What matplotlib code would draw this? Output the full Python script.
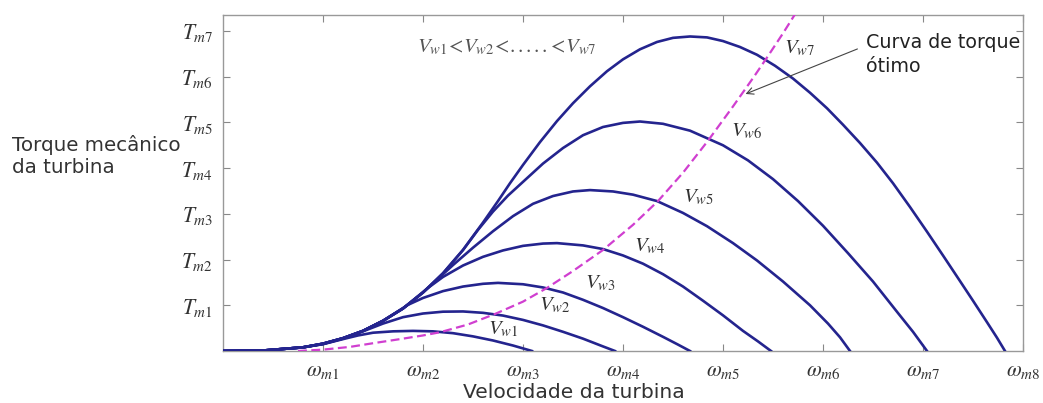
import matplotlib
matplotlib.use("Agg")
import matplotlib.pyplot as plt

plt.rcParams["mathtext.fontset"] = "stix"

# Torque-speed curves of the turbine for wind speeds Vw1..Vw7
vw1_x = [0, 0.4, 0.8, 1.0, 1.2, 1.35, 1.5, 1.7, 1.9, 2.1, 2.3, 2.5, 2.7, 2.9, 3.09]
vw1_y = [0, 0.01, 0.08, 0.15, 0.26, 0.34, 0.40, 0.43, 0.44, 0.43, 0.39, 0.32, 0.23, 0.12, 0]

vw2_x = [0, 0.4, 0.8, 1.0, 1.2, 1.4, 1.6, 1.8, 2.0, 2.2, 2.4, 2.6, 2.8, 3.0, 3.2, 3.4, 3.6, 3.8, 3.92]
vw2_y = [0, 0.01, 0.08, 0.15, 0.27, 0.43, 0.60, 0.74, 0.82, 0.86, 0.865, 0.835, 0.775, 0.68, 0.56, 0.42, 0.27, 0.10, 0]

vw3_x = [0, 0.4, 0.8, 1.0, 1.2, 1.4, 1.6, 1.85, 2.0, 2.2, 2.4, 2.6, 2.75, 3.0, 3.2, 3.4, 3.6, 3.8, 4.0, 4.2, 4.4, 4.55, 4.67]
vw3_y = [0, 0.01, 0.08, 0.16, 0.28, 0.44, 0.66, 1.01, 1.16, 1.31, 1.41, 1.47, 1.49, 1.46, 1.39, 1.28, 1.12, 0.94, 0.74, 0.53, 0.31, 0.14, 0]

vw4_x = [0, 0.4, 0.8, 1.0, 1.2, 1.4, 1.6, 1.8, 2.05, 2.2, 2.4, 2.6, 2.8, 3.0, 3.2, 3.34,
         3.6, 3.8, 4.0, 4.2, 4.4, 4.6, 4.8, 5.0, 5.2, 5.35, 5.48]
vw4_y = [0, 0.01, 0.08, 0.16, 0.28, 0.44, 0.66, 0.93, 1.38, 1.62, 1.87, 2.06, 2.20, 2.30, 2.35, 2.36,
         2.31, 2.23, 2.09, 1.91, 1.68, 1.41, 1.10, 0.78, 0.44, 0.21, 0]

vw5_x = [0, 0.4, 0.8, 1.0, 1.2, 1.4, 1.6, 1.8, 2.0, 2.15, 2.3, 2.5, 2.7, 2.9, 3.1, 3.3, 3.5, 3.67,
         3.9, 4.1, 4.34, 4.6, 4.84, 5.1, 5.34, 5.6, 5.87, 6.05, 6.17, 6.27]
vw5_y = [0, 0.01, 0.08, 0.16, 0.28, 0.44, 0.66, 0.93, 1.28, 1.58, 1.88, 2.26, 2.62, 2.95, 3.22, 3.39, 3.49, 3.52,
         3.49, 3.42, 3.28, 3.02, 2.73, 2.36, 1.98, 1.52, 1.00, 0.60, 0.30, 0]

vw6_x = [0, 0.4, 0.8, 1.0, 1.2, 1.4, 1.6, 1.8, 2.0, 2.2, 2.4, 2.55, 2.7, 2.85, 3.0, 3.2, 3.4, 3.6, 3.8, 4.0, 4.17,
         4.4, 4.67, 5.0, 5.25, 5.5, 5.75, 6.0, 6.25, 6.5, 6.75, 6.9, 7.04]
vw6_y = [0, 0.01, 0.08, 0.16, 0.28, 0.44, 0.66, 0.93, 1.28, 1.70, 2.21, 2.65, 3.05, 3.40, 3.70, 4.10, 4.44, 4.72, 4.90, 4.99, 5.02,
         4.97, 4.82, 4.50, 4.17, 3.76, 3.28, 2.74, 2.14, 1.52, 0.83, 0.42, 0]

vw7_x = [0, 0.4, 0.8, 1.0, 1.2, 1.4, 1.6, 1.8, 2.0, 2.2, 2.4, 2.6, 2.75, 2.87, 3.0, 3.17, 3.34, 3.5, 3.67, 3.84,
         4.0, 4.17, 4.34, 4.5, 4.67, 4.84, 5.0, 5.17, 5.34, 5.52, 5.7, 5.87, 6.04, 6.2, 6.37, 6.54, 6.7,
         6.87, 7.04, 7.2, 7.37, 7.5, 7.64, 7.74, 7.82]
vw7_y = [0, 0.01, 0.08, 0.16, 0.28, 0.44, 0.66, 0.93, 1.28, 1.70, 2.21, 2.81, 3.28, 3.67, 4.07, 4.57, 5.03, 5.42, 5.79, 6.12,
         6.38, 6.60, 6.76, 6.85, 6.88, 6.86, 6.78, 6.65, 6.48, 6.24, 5.96, 5.65, 5.31, 4.95, 4.55, 4.12, 3.67,
         3.15, 2.61, 2.09, 1.53, 1.10, 0.63, 0.29, 0]

curves_x = [vw1_x, vw2_x, vw3_x, vw4_x, vw5_x, vw6_x, vw7_x]
curves_y = [vw1_y, vw2_y, vw3_y, vw4_y, vw5_y, vw6_y, vw7_y]

# Optimal torque curve
opt_x = [0.75, 1.0, 1.27, 1.5, 1.77, 2.0, 2.17, 2.45, 2.72, 3.0, 3.24, 3.5, 3.8, 4.1, 4.35, 4.6, 4.85, 5.1, 5.3, 5.44, 5.6, 5.75]
opt_y = [0, 0.03, 0.09, 0.17, 0.26, 0.34, 0.41, 0.58, 0.81, 1.08, 1.38, 1.75, 2.21, 2.76, 3.28, 3.90, 4.60, 5.35, 5.97, 6.42, 6.95, 7.47]

# Curve labels and their positions
curve_labels = [r"$V_{w%d}$" % i for i in range(1, 8)]
label_x = [2.80, 3.32, 3.77, 4.27, 4.75, 5.24, 5.77]
label_y = [0.49, 1.00, 1.49, 2.30, 3.37, 4.81, 6.63]

x_ticks = [1, 2, 3, 4, 5, 6, 7, 8]
x_tick_labels = [r"$\omega_{m%d}$" % i for i in x_ticks]
y_ticks = [1, 2, 3, 4, 5, 6, 7]
y_tick_labels = [r"$T_{m%d}$" % i for i in y_ticks]

W, H = 1043, 403
fig = plt.figure(figsize=(W / 100, H / 100), dpi=100)
ax = fig.add_axes([223 / W, 52 / H, 800 / W, 336 / H])

for cx, cy in zip(curves_x, curves_y):
    ax.plot(cx, cy, color="#24248e", lw=1.9, solid_joinstyle="round", zorder=3)

ax.plot(opt_x, opt_y, color="#d03fd0", lw=1.6, dashes=(4, 2), zorder=4)

for txt, lx, ly in zip(curve_labels, label_x, label_y):
    ax.text(lx, ly, txt, fontsize=15, color="#333333", ha="center", va="center", zorder=5)

ax.text(1.94, 6.65, r"$V_{w1}\!<\!V_{w2}\!<\!.....\!<\!V_{w7}$", fontsize=15,
        color="#555555", ha="left", va="center")

ax.annotate("", xy=(5.20, 5.60), xytext=(6.37, 6.63),
            arrowprops=dict(arrowstyle="->", color="#444444", lw=0.8, mutation_scale=12))
ax.text(6.43, 6.49, "Curva de torque\nótimo", fontsize=13.7, color="#222222",
        ha="left", va="center", linespacing=1.3)

ax.set_xlim(0, 8)
ax.set_ylim(0, 7.35)
ax.set_xticks(x_ticks)
ax.set_xticklabels(x_tick_labels)
ax.set_yticks(y_ticks)
ax.set_yticklabels(y_tick_labels)
ax.tick_params(direction="in", length=5, color="#888888", top=True, right=True,
               labelsize=15.5, labelcolor="#333333", pad=7)
for s in ax.spines.values():
    s.set_color("#999999")
    s.set_linewidth(1.0)

fig.text(12 / W, 1 - 156 / H, "Torque mecânico\nda turbina", fontsize=14.3, color="#333333",
         ha="left", va="center", linespacing=1.2)
fig.text(574 / W, 1 - 392 / H, "Velocidade da turbina", fontsize=14.6, color="#333333",
         ha="center", va="center")

fig.savefig("out.png", dpi=100, facecolor="white")
